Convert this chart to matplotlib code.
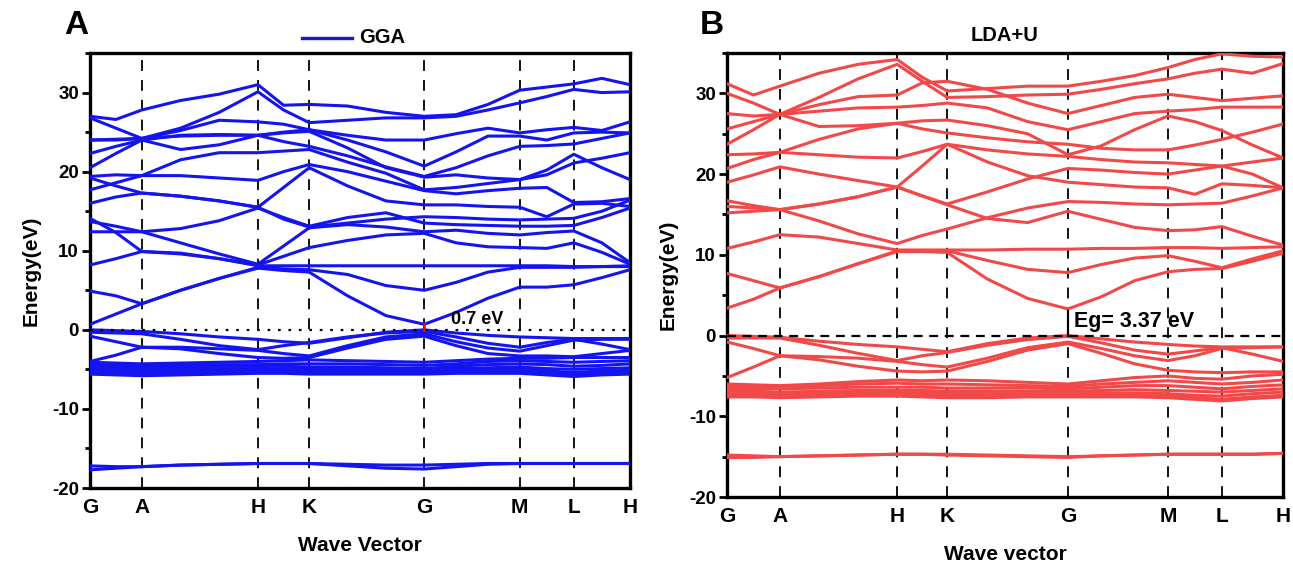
import numpy as np
import matplotlib
matplotlib.use("Agg")
from matplotlib import pyplot as plt
from matplotlib.ticker import MultipleLocator

# High-symmetry path and where each point sits along the x axis
k_labels = ["G", "A", "H", "K", "G", "M", "L", "H"]
gga_kpath = [0.0, 0.096, 0.311, 0.406, 0.619, 0.796, 0.896, 1.0]
lda_kpath = [0.0, 0.095, 0.306, 0.396, 0.613, 0.793, 0.890, 1.0]
# number of sampled steps on each segment G-A, A-H, H-K, K-G, G-M, M-L, L-H
seg_steps = [2, 3, 2, 3, 3, 2, 2]

# Band energies (eV), one row per band, 18 samples along the path
gga_conduction = [
    [0.7, 2.0, 3.3, 5.0, 6.5, 7.8, 7.5, 7.3, 4.3, 1.8, 0.7, 2.2, 4.0, 5.4, 5.4, 5.7, 6.6, 7.6],
    [4.9, 4.3, 3.3, 5.0, 6.5, 7.9, 7.7, 7.6, 7.0, 5.6, 5.0, 6.0, 7.3, 7.9, 7.9, 7.9, 8.0, 8.1],
    [8.2, 9.0, 9.9, 9.7, 9.0, 8.1, 8.1, 8.1, 8.1, 8.1, 8.1, 8.1, 8.1, 8.1, 8.1, 8.0, 8.0, 8.0],
    [14.1, 12.3, 9.9, 9.6, 9.0, 8.2, 9.3, 10.4, 11.3, 12.0, 12.2, 11.0, 10.5, 10.4, 10.3, 11.0, 9.8, 8.3],
    [12.4, 12.4, 12.4, 11.0, 9.6, 8.3, 10.6, 12.9, 13.3, 13.0, 12.4, 12.6, 12.2, 12.0, 12.3, 12.5, 11.0, 8.5],
    [13.7, 13.1, 12.4, 12.8, 13.8, 15.4, 14.2, 13.1, 14.2, 14.8, 13.5, 13.3, 13.2, 13.1, 13.1, 13.2, 14.2, 15.4],
    [16.0, 16.8, 17.3, 16.9, 16.3, 15.5, 18.0, 20.5, 18.2, 16.3, 15.8, 15.8, 15.6, 15.5, 14.3, 15.9, 16.0, 15.6],
    [19.2, 18.2, 17.3, 16.9, 16.3, 15.5, 14.0, 13.0, 13.5, 14.0, 14.3, 14.2, 14.0, 13.9, 14.0, 14.1, 15.0, 16.4],
    [17.7, 18.6, 19.5, 19.5, 19.2, 18.9, 20.0, 20.9, 20.0, 18.8, 17.6, 17.2, 17.6, 17.9, 18.0, 16.1, 16.2, 16.6],
    [19.4, 19.6, 19.5, 21.5, 22.4, 22.4, 22.6, 22.8, 21.2, 19.8, 17.7, 18.0, 18.5, 19.0, 19.6, 21.1, 21.7, 22.4],
    [20.5, 22.3, 24.0, 24.6, 24.7, 24.6, 24.9, 25.1, 23.0, 20.5, 19.3, 19.6, 19.2, 19.0, 20.2, 22.2, 20.5, 19.0],
    [22.3, 23.2, 24.0, 22.8, 23.4, 24.6, 23.8, 23.2, 22.0, 20.6, 19.4, 20.5, 22.0, 23.2, 23.3, 23.5, 24.2, 24.9],
    [24.0, 24.0, 24.2, 25.2, 26.5, 26.3, 26.0, 25.3, 24.0, 22.5, 20.7, 22.5, 24.5, 24.5, 24.0, 24.9, 25.0, 24.9],
    [26.8, 25.5, 24.2, 25.5, 27.5, 30.1, 27.8, 26.2, 26.5, 26.8, 26.8, 27.0, 27.8, 28.7, 29.5, 30.4, 30.0, 30.1],
    [27.0, 26.6, 27.8, 29.0, 29.8, 31.0, 28.4, 28.5, 28.3, 27.5, 27.0, 27.2, 28.5, 30.3, 30.7, 31.1, 31.8, 31.0],
    [24.0, 24.1, 24.2, 24.5, 24.6, 24.6, 25.0, 25.3, 24.6, 24.0, 24.0, 24.8, 25.5, 24.9, 25.3, 25.6, 25.2, 26.3],
]
gga_valence = [
    [0.0, -0.1, -0.2, -0.5, -0.9, -1.2, -1.5, -1.7, -1.0, -0.3, 0.0, -0.4, -0.7, -0.9, -1.0, -1.1, -1.1, -1.1],
    [-0.3, -0.4, -0.5, -1.2, -2.0, -2.5, -2.0, -1.6, -0.9, -0.4, -0.2, -0.9, -1.7, -2.2, -1.6, -1.2, -1.8, -2.5],
    [-0.8, -1.5, -2.2, -2.2, -2.4, -2.6, -3.0, -3.3, -2.0, -0.9, -0.5, -1.5, -2.3, -2.7, -2.0, -1.3, -1.2, -1.2],
    [-4.0, -3.2, -2.2, -2.4, -3.0, -3.5, -3.6, -3.5, -2.3, -1.2, -0.8, -2.0, -3.0, -3.3, -3.3, -3.4, -3.0, -2.6],
    [-4.1, -4.2, -4.3, -4.2, -4.1, -4.0, -3.9, -3.8, -3.9, -4.0, -4.1, -3.9, -3.7, -3.6, -3.6, -3.5, -3.5, -3.5],
    [-4.3, -4.4, -4.5, -4.5, -4.4, -4.4, -4.3, -4.3, -4.3, -4.4, -4.5, -4.3, -4.0, -3.9, -4.0, -4.1, -4.0, -3.9],
    [-4.5, -4.6, -4.8, -4.7, -4.6, -4.6, -4.6, -4.7, -4.7, -4.8, -4.9, -4.6, -4.4, -4.3, -4.4, -4.6, -4.5, -4.3],
    [-4.8, -4.9, -5.0, -5.0, -4.9, -4.9, -4.9, -5.0, -5.0, -5.0, -5.0, -4.9, -4.8, -4.7, -4.9, -5.0, -4.9, -4.8],
    [-5.1, -5.2, -5.3, -5.2, -5.1, -5.1, -5.1, -5.2, -5.2, -5.2, -5.2, -5.1, -5.0, -5.0, -5.2, -5.4, -5.2, -5.0],
    [-5.4, -5.5, -5.6, -5.5, -5.4, -5.3, -5.3, -5.4, -5.4, -5.4, -5.4, -5.3, -5.3, -5.3, -5.5, -5.7, -5.5, -5.3],
    [-5.6, -5.7, -5.8, -5.7, -5.6, -5.5, -5.5, -5.6, -5.6, -5.6, -5.6, -5.5, -5.5, -5.5, -5.7, -5.9, -5.7, -5.6],
    [-17.2, -17.3, -17.3, -17.1, -17.0, -16.9, -16.9, -16.9, -17.0, -17.1, -17.1, -17.0, -16.9, -16.9, -16.9, -16.9, -16.9, -16.9],
    [-17.7, -17.5, -17.3, -17.1, -17.0, -16.9, -16.9, -16.9, -17.2, -17.5, -17.6, -17.3, -17.0, -16.9, -16.9, -16.9, -16.9, -16.9],
]

lda_conduction = [
    [3.4, 4.5, 5.9, 7.3, 8.9, 10.4, 10.4, 10.3, 7.0, 4.6, 3.3, 4.8, 6.8, 7.9, 8.2, 8.3, 9.2, 10.2],
    [7.7, 6.8, 5.9, 7.3, 8.9, 10.5, 10.5, 10.5, 9.3, 8.2, 7.8, 8.8, 9.6, 9.9, 9.2, 8.4, 9.5, 10.5],
    [10.8, 11.6, 12.5, 12.2, 11.4, 10.6, 10.6, 10.6, 10.6, 10.7, 10.7, 10.8, 10.8, 10.9, 10.9, 10.8, 10.9, 11.0],
    [15.2, 15.4, 15.6, 14.2, 12.6, 11.4, 12.4, 13.2, 14.6, 15.8, 16.6, 16.5, 16.3, 16.2, 16.3, 16.4, 17.3, 18.3],
    [16.0, 15.8, 15.6, 16.3, 17.2, 18.4, 17.3, 16.2, 14.5, 14.0, 15.4, 14.4, 13.4, 13.0, 13.1, 13.5, 12.3, 11.2],
    [16.7, 16.1, 15.6, 16.3, 17.2, 18.4, 17.3, 16.3, 17.8, 19.4, 20.7, 20.5, 20.2, 20.0, 20.5, 21.0, 21.5, 22.0],
    [19.0, 19.9, 20.9, 20.0, 19.2, 18.4, 21.0, 23.7, 23.0, 22.5, 22.2, 21.8, 21.5, 21.4, 21.2, 21.0, 20.0, 18.3],
    [20.7, 21.8, 22.7, 22.4, 22.1, 22.0, 22.8, 23.7, 21.5, 19.8, 19.0, 18.7, 18.4, 18.3, 17.5, 18.8, 18.6, 18.3],
    [22.4, 22.5, 22.7, 24.3, 25.6, 26.3, 25.6, 25.1, 24.5, 24.0, 23.7, 23.2, 23.0, 23.0, 23.6, 24.3, 25.2, 26.2],
    [23.7, 25.5, 27.4, 25.9, 26.0, 26.3, 26.6, 26.7, 26.0, 25.0, 22.4, 23.5, 25.5, 27.2, 26.5, 25.4, 23.6, 22.0],
    [25.6, 26.5, 27.4, 27.8, 28.2, 28.3, 28.5, 28.8, 28.2, 26.5, 25.5, 26.5, 27.5, 27.8, 28.0, 28.3, 28.3, 28.3],
    [27.5, 27.2, 27.4, 28.6, 29.6, 29.8, 31.3, 31.5, 30.5, 28.8, 27.5, 28.5, 29.5, 29.9, 29.5, 29.1, 29.4, 29.7],
    [30.0, 28.8, 27.4, 29.5, 31.8, 33.6, 31.5, 29.5, 29.6, 29.8, 29.9, 30.5, 31.2, 31.8, 32.5, 33.0, 32.5, 33.7],
    [31.2, 29.8, 30.9, 32.5, 33.6, 34.2, 32.0, 30.3, 30.6, 30.9, 30.9, 31.5, 32.2, 33.2, 34.2, 34.9, 34.6, 34.5],
]
lda_valence = [
    [0.0, -0.1, -0.2, -0.7, -1.1, -1.4, -1.7, -2.0, -1.0, -0.3, 0.0, -0.4, -0.8, -1.1, -1.3, -1.4, -1.4, -1.4],
    [-0.3, -0.3, -0.3, -1.2, -2.2, -3.1, -2.5, -2.1, -1.2, -0.5, -0.1, -0.9, -1.8, -2.3, -1.9, -1.5, -2.3, -3.2],
    [-0.8, -1.6, -2.5, -2.6, -2.8, -3.2, -3.6, -3.9, -2.8, -1.5, -0.8, -1.6, -2.5, -3.1, -2.5, -1.6, -1.5, -1.4],
    [-5.2, -3.9, -2.5, -3.0, -3.8, -4.4, -4.5, -4.4, -3.2, -1.8, -1.0, -2.2, -3.5, -4.3, -4.5, -4.6, -4.5, -4.5],
    [-6.0, -6.1, -6.2, -6.0, -5.7, -5.5, -5.6, -5.5, -5.6, -5.8, -6.0, -5.6, -5.2, -5.0, -5.3, -5.4, -5.0, -4.8],
    [-6.3, -6.3, -6.3, -6.2, -6.0, -5.9, -6.0, -6.0, -6.1, -6.2, -6.3, -6.0, -5.8, -5.6, -5.8, -6.0, -5.8, -5.5],
    [-6.6, -6.6, -6.6, -6.5, -6.4, -6.4, -6.4, -6.5, -6.5, -6.5, -6.6, -6.4, -6.2, -6.2, -6.4, -6.6, -6.3, -6.1],
    [-6.9, -6.9, -7.0, -6.9, -6.8, -6.8, -6.8, -6.9, -6.9, -6.9, -6.9, -6.8, -6.7, -6.8, -6.9, -7.0, -6.8, -6.6],
    [-7.2, -7.2, -7.3, -7.2, -7.1, -7.0, -7.1, -7.2, -7.2, -7.2, -7.2, -7.1, -7.1, -7.2, -7.4, -7.5, -7.2, -7.0],
    [-7.4, -7.5, -7.6, -7.5, -7.4, -7.3, -7.4, -7.5, -7.5, -7.5, -7.5, -7.4, -7.4, -7.5, -7.7, -7.9, -7.6, -7.4],
    [-7.6, -7.6, -7.7, -7.6, -7.5, -7.5, -7.6, -7.7, -7.7, -7.6, -7.6, -7.6, -7.6, -7.7, -7.9, -8.1, -7.8, -7.6],
    [-14.8, -14.9, -15.0, -14.9, -14.8, -14.7, -14.7, -14.7, -14.8, -14.9, -15.0, -14.9, -14.8, -14.7, -14.7, -14.7, -14.7, -14.6],
    [-15.1, -15.1, -15.0, -14.9, -14.8, -14.7, -14.7, -14.8, -14.9, -15.0, -15.1, -14.9, -14.8, -14.7, -14.7, -14.7, -14.7, -14.6],
]

gga_gap = 0.7
lda_gap = 3.37

FONT = "Liberation Sans"
plt.rcParams["font.family"] = [FONT, "DejaVu Sans"]
plt.rcParams["font.weight"] = "bold"
plt.rcParams["axes.unicode_minus"] = False


def sample_points(kpath):
    pts = [kpath[0]]
    for a, b, n in zip(kpath[:-1], kpath[1:], seg_steps):
        pts += list(np.linspace(a, b, n + 1)[1:])
    return np.array(pts)


def draw_bands(ax, kpath, bands, color):
    x = sample_points(kpath)
    for band in bands:
        ax.plot(x, band, color=color, lw=2.2, solid_joinstyle="round",
                solid_capstyle="round", zorder=3)


def style_axes(ax, kpath, xlabel, fermi_style, xlabelpad):
    ax.set_xlim(0, 1)
    ax.set_ylim(-20, 35)
    for xk in kpath[1:-1]:
        ax.axvline(xk, color="black", lw=1.3, ls=(0, (6, 5)), zorder=2)
    ax.axhline(0, color="black", lw=1.6, ls=fermi_style, zorder=4)
    ax.set_xticks(kpath)
    ax.set_xticklabels(k_labels, fontsize=15, fontweight="bold")
    ax.tick_params(axis="x", length=0, pad=7)
    ax.yaxis.set_major_locator(MultipleLocator(10))
    ax.yaxis.set_minor_locator(MultipleLocator(5))
    ax.tick_params(axis="y", which="major", direction="out", length=6, width=2,
                   labelsize=13.5, pad=2)
    ax.tick_params(axis="y", which="minor", direction="out", length=3.5, width=2)
    for lbl in ax.get_yticklabels():
        lbl.set_fontweight("bold")
    for side in ax.spines.values():
        side.set_linewidth(2.4)
    ax.set_xlabel(xlabel, fontsize=15, fontweight="bold", labelpad=xlabelpad)
    ax.set_ylabel("Energy(eV)", fontsize=15, fontweight="bold", labelpad=8)


fig = plt.figure(figsize=(12.93, 5.63), dpi=100)
ax_a = fig.add_axes([0.0696, 0.1332, 0.4176, 0.7726])
ax_b = fig.add_axes([0.5623, 0.1172, 0.4300, 0.7886])

# Panel A: GGA
draw_bands(ax_a, gga_kpath, gga_conduction + gga_valence, "#1414f0")
style_axes(ax_a, gga_kpath, "Wave Vector", (0, (1.2, 3.5)), 14)
ax_a.plot([gga_kpath[4], gga_kpath[4]], [0, gga_gap], color="red", lw=1.8, zorder=5)
ax_a.text(0.668, 0.2, f"{gga_gap} eV", fontsize=13, fontweight="bold", va="bottom", zorder=6)
ax_a.plot([0.392, 0.485], [1.035, 1.035], color="#1414f0", lw=2.4,
          transform=ax_a.transAxes, clip_on=False)
ax_a.text(0.498, 1.035, "GGA", transform=ax_a.transAxes, fontsize=14.5,
          fontweight="bold", va="center")

# Panel B: LDA+U
draw_bands(ax_b, lda_kpath, lda_conduction + lda_valence, "#f24848")
style_axes(ax_b, lda_kpath, "Wave vector", (0, (4, 3)), 14)
ax_b.plot([lda_kpath[4], lda_kpath[4]], [0, 3.1], color="black", lw=1.6, zorder=5)
ax_b.text(0.624, 0.5, f"Eg= {lda_gap} eV", fontsize=15.5, fontweight="bold",
          va="bottom", zorder=6)
ax_b.text(0.5, 1.04, "LDA+U", transform=ax_b.transAxes, fontsize=14.5,
          fontweight="bold", ha="center", va="center")

fig.text(0.050, 0.955, "A", fontsize=24, fontweight="bold", va="center")
fig.text(0.541, 0.955, "B", fontsize=24, fontweight="bold", va="center")

fig.savefig("out.png", dpi=100)
